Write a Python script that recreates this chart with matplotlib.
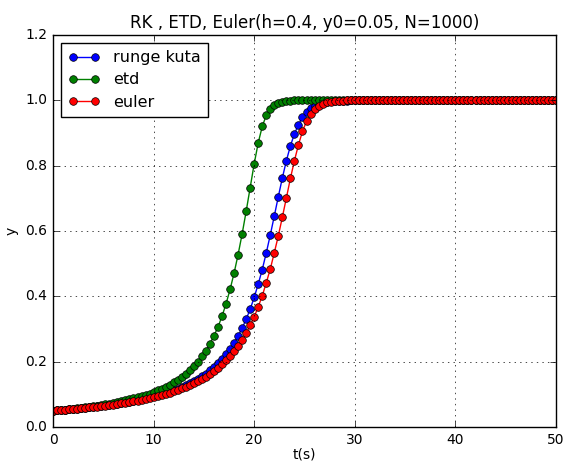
import matplotlib
matplotlib.use("Agg")
import matplotlib.pyplot as plt
import numpy as np

plt.style.use("classic")

# time grid, step h = 0.4 from 0 to 50
t = np.round(np.arange(0, 50.2, 0.4), 1)

runge_kuta = [
    0.0500, 0.0510, 0.0520, 0.0530, 0.0541, 0.0553, 0.0565, 0.0577, 0.0590, 0.0603,
    0.0618, 0.0633, 0.0648, 0.0664, 0.0680, 0.0697, 0.0715, 0.0735, 0.0756, 0.0778,
    0.0800, 0.0824, 0.0849, 0.0876, 0.0905, 0.0936, 0.0968, 0.1002, 0.1040, 0.1080,
    0.1124, 0.1171, 0.1222, 0.1279, 0.1340, 0.1402, 0.1472, 0.1548, 0.1634, 0.1730,
    0.1834, 0.1955, 0.2078, 0.2225, 0.2390, 0.2573, 0.2790, 0.3020, 0.3300, 0.3605,
    0.3970, 0.4375, 0.4820, 0.5330, 0.5880, 0.6463, 0.7056, 0.7627, 0.8154, 0.8605,
    0.8976, 0.9245, 0.9485, 0.9646, 0.9760, 0.9835, 0.9885, 0.9925, 0.9950, 0.9966,
    0.9978, 0.9986, 0.9990, 0.9993, 0.9995, 0.9997, 0.9998, 0.9999, 1.0, 1.0,
    1.0, 1.0, 1.0, 1.0, 1.0, 1.0, 1.0, 1.0, 1.0, 1.0,
    1.0, 1.0, 1.0, 1.0, 1.0, 1.0, 1.0, 1.0, 1.0, 1.0,
    1.0, 1.0, 1.0, 1.0, 1.0, 1.0, 1.0, 1.0, 1.0, 1.0,
    1.0, 1.0, 1.0, 1.0, 1.0, 1.0, 1.0, 1.0, 1.0, 1.0,
    1.0, 1.0, 1.0, 1.0, 1.0, 1.0,
]

etd = [
    0.0500, 0.0511, 0.0523, 0.0535, 0.0548, 0.0562, 0.0576, 0.0591, 0.0606, 0.0623,
    0.0640, 0.0658, 0.0677, 0.0697, 0.0717, 0.0740, 0.0764, 0.0790, 0.0817, 0.0845,
    0.0876, 0.0910, 0.0946, 0.0983, 0.1025, 0.1070, 0.1120, 0.1173, 0.1233, 0.1300,
    0.1371, 0.1447, 0.1532, 0.1630, 0.1740, 0.1864, 0.2004, 0.2160, 0.2340, 0.2546,
    0.2790, 0.3060, 0.3390, 0.3770, 0.4210, 0.4710, 0.5280, 0.5910, 0.6600, 0.7330,
    0.8060, 0.8700, 0.9200, 0.9540, 0.9730, 0.9870, 0.9930, 0.9960, 0.9980, 0.9990,
    0.9995, 1.0, 1.0, 1.0, 1.0, 1.0, 1.0, 1.0, 1.0, 1.0,
    1.0, 1.0, 1.0, 1.0, 1.0, 1.0, 1.0, 1.0, 1.0, 1.0,
    1.0, 1.0, 1.0, 1.0, 1.0, 1.0, 1.0, 1.0, 1.0, 1.0,
    1.0, 1.0, 1.0, 1.0, 1.0, 1.0, 1.0, 1.0, 1.0, 1.0,
    1.0, 1.0, 1.0, 1.0, 1.0, 1.0, 1.0, 1.0, 1.0, 1.0,
    1.0, 1.0, 1.0, 1.0, 1.0, 1.0, 1.0, 1.0, 1.0, 1.0,
    1.0, 1.0, 1.0, 1.0, 1.0, 1.0,
]

euler = [
    0.0500, 0.0510, 0.0519, 0.0529, 0.0539, 0.0550, 0.0561, 0.0573, 0.0585, 0.0599,
    0.0613, 0.0627, 0.0641, 0.0656, 0.0671, 0.0687, 0.0705, 0.0724, 0.0743, 0.0764,
    0.0786, 0.0810, 0.0835, 0.0861, 0.0889, 0.0919, 0.0951, 0.0984, 0.1018, 0.1054,
    0.1094, 0.1136, 0.1180, 0.1229, 0.1284, 0.1342, 0.1404, 0.1472, 0.1545, 0.1626,
    0.1715, 0.1813, 0.1920, 0.2038, 0.2175, 0.2325, 0.2477, 0.2660, 0.2870, 0.3113,
    0.3370, 0.3680, 0.4015, 0.4415, 0.4838, 0.5337, 0.5856, 0.6426, 0.7015, 0.7612,
    0.8154, 0.8640, 0.9050, 0.9360, 0.9580, 0.9730, 0.9830, 0.9900, 0.9940, 0.9964,
    0.9978, 0.9987, 0.9992, 0.9995, 0.9997, 0.9998, 0.9999, 1.0, 1.0, 1.0,
    1.0, 1.0, 1.0, 1.0, 1.0, 1.0, 1.0, 1.0, 1.0, 1.0,
    1.0, 1.0, 1.0, 1.0, 1.0, 1.0, 1.0, 1.0, 1.0, 1.0,
    1.0, 1.0, 1.0, 1.0, 1.0, 1.0, 1.0, 1.0, 1.0, 1.0,
    1.0, 1.0, 1.0, 1.0, 1.0, 1.0, 1.0, 1.0, 1.0, 1.0,
    1.0, 1.0, 1.0, 1.0, 1.0, 1.0,
]

fig = plt.figure(figsize=(5.64, 4.61), dpi=100)
ax = fig.add_axes([53 / 564, 34 / 461, 503 / 564, 392 / 461])

ax.plot(t, runge_kuta, "b-o", label="runge kuta", markersize=5.5)
ax.plot(t, etd, "g-o", label="etd", markersize=5.5)
ax.plot(t, euler, "r-o", label="euler", markersize=5.5)

ax.set_xlim(0, 50)
ax.set_ylim(0, 1.2)
ax.set_title("RK , ETD, Euler(h=0.4, y0=0.05, N=1000)", fontsize=12)
ax.set_xlabel("t(s)", fontsize=10, labelpad=1)
ax.set_ylabel("y", fontsize=10)
ax.tick_params(labelsize=10)
ax.grid(True)
ax.legend(loc="upper left", fontsize=11.5, numpoints=2, labelspacing=0.45,
          borderpad=0.45, handlelength=2.0)

fig.savefig("out.png", dpi=100)
